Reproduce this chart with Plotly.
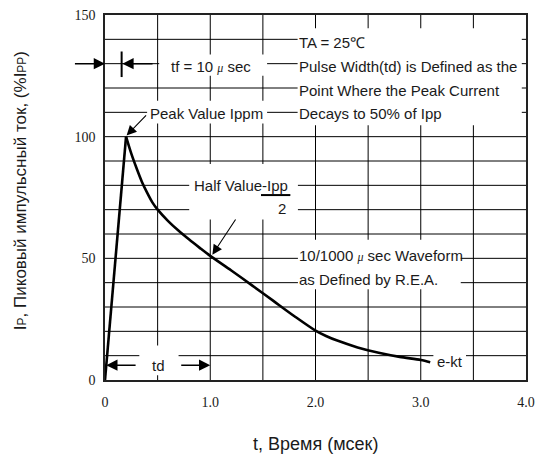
import plotly.graph_objects as go

# 10/1000 us test pulse: time (ms) vs peak pulse current (% of Ipp)
t_ms = [0, 0.2, 0.25, 0.3, 0.35, 0.4, 0.45, 0.5, 0.6, 0.7, 0.8, 0.9, 1.0,
        1.2, 1.4, 1.6, 1.8, 2.0, 2.1, 2.2, 2.4, 2.6, 2.8, 3.0, 3.09]
ip_pct = [0, 100, 93, 87, 81.5, 77, 73, 70, 65.3, 61.3, 57.7, 54.3, 51,
          45, 38.8, 32.5, 26.2, 20.3, 18.1, 16.3, 13.4, 11.2, 9.5, 8.2, 7.3]
PEAK_INDEX = 1

x_ticks = [0, 1, 2, 3, 4]
x_tick_text = ["0", "1.0", "2.0", "3.0", "4.0"]
y_ticks = [0, 50, 100, 150]
y_tick_text = ["0", "50", "100", "150"]
X_RANGE = (0, 4)
Y_RANGE = (0, 150)
X_GRID_STEP = 0.5
Y_GRID_STEP = 10

SANS = "Liberation Sans, Arial, sans-serif"
SERIF = "Liberation Serif, Times New Roman, serif"
INK = "#1a1a1a"
MU = '<span style="font-family:Liberation Serif;font-size:12px"><i>μ</i></span>'

fig = go.Figure()
# linear rise to the peak, smooth decay after it
fig.add_trace(go.Scatter(x=t_ms[:PEAK_INDEX + 1], y=ip_pct[:PEAK_INDEX + 1], mode="lines",
                         line=dict(color="black", width=2.6),
                         hoverinfo="skip", showlegend=False))
fig.add_trace(go.Scatter(x=t_ms[PEAK_INDEX:], y=ip_pct[PEAK_INDEX:], mode="lines",
                         line=dict(color="black", width=2.6, shape="spline", smoothing=0.8),
                         hoverinfo="skip", showlegend=False))

shapes = []
# chart grid: every 0.5 ms and every 10 %
n_x = int(round((X_RANGE[1] - X_RANGE[0]) / X_GRID_STEP))
n_y = int(round((Y_RANGE[1] - Y_RANGE[0]) / Y_GRID_STEP))
for i in range(1, n_x):
    gx = X_RANGE[0] + i * X_GRID_STEP
    shapes.append(dict(type="line", xref="x", yref="y", x0=gx, x1=gx,
                       y0=Y_RANGE[0], y1=Y_RANGE[1],
                       line=dict(color="black", width=1), layer="below"))
for j in range(1, n_y):
    gy = Y_RANGE[0] + j * Y_GRID_STEP
    shapes.append(dict(type="line", xref="x", yref="y", x0=X_RANGE[0], x1=X_RANGE[1],
                       y0=gy, y1=gy,
                       line=dict(color="black", width=1), layer="below"))

# white panels that break the grid behind each text block
panels = [
    (0.515, 1.54, 125.0, 133.8),   # tf label
    (0.40, 1.54, 105.4, 114.8),    # peak label
    (1.83, 3.96, 104.7, 144.6),    # conditions block
    (0.80, 1.833, 66.0, 88.8),     # half value label
    (1.833, 3.38, 37.3, 57.6),     # waveform label
    (0.326, 0.699, 2.0, 14.2),     # td label
    (3.12, 3.43, 4.0, 12.0),       # e-kt label
]
for x0, x1, y0, y1 in panels:
    shapes.append(dict(type="rect", xref="x", yref="y", x0=x0, x1=x1, y0=y0, y1=y1,
                       fillcolor="white", line=dict(width=0), layer="above"))
# tf marker bar and the Ipp/2 fraction bar
shapes.append(dict(type="line", xref="x", yref="y", x0=0.158, x1=0.158, y0=124.5, y1=135,
                   line=dict(color="black", width=2), layer="above"))
shapes.append(dict(type="line", xref="x", yref="y", x0=1.482, x1=1.761, y0=76, y1=76,
                   line=dict(color="black", width=2), layer="above"))

annotations = []


def arrow(x, y, ax, ay, width=1.5, size=1.5):
    annotations.append(dict(x=x, y=y, ax=ax, ay=ay, xref="x", yref="y",
                            axref="x", ayref="y", text="", showarrow=True,
                            arrowhead=2, arrowsize=size, arrowwidth=width,
                            arrowcolor="black", standoff=0))


def label(text, x, y, xanchor="left"):
    annotations.append(dict(x=x, y=y, xref="x", yref="y", text=text, showarrow=False,
                            xanchor=xanchor, yanchor="middle",
                            font=dict(family=SANS, size=15, color=INK)))


arrow(0, 130, -0.30, 130)
arrow(0.165, 130, 0.466, 130)
arrow(0.205, 100.5, 0.404, 109.4, width=1.1, size=1.8)
arrow(1.02, 51.5, 1.25, 66.6, width=1.1, size=1.8)
arrow(0.012, 6.1, 0.305, 6.1)
arrow(1.0, 6.1, 0.71, 6.1)

label("tf = 10 " + MU + " sec", 1.006, 129, xanchor="center")
label("TA = 25℃", 1.825, 138.5)
label("Pulse Width(td) is Defined as the", 1.825, 128.8)
label("Point Where the Peak Current", 1.825, 119)
label("Decays to 50% of Ipp", 1.825, 109.4)
label("Peak Value Ippm", 0.41, 109.5)
label("Half Value-Ipp", 0.83, 80)
label("2", 1.678, 70.3, xanchor="center")
label("10/1000 " + MU + " sec Waveform", 1.825, 51.3)
label("as Defined by R.E.A.", 1.825, 41.5)
label("e-kt", 3.135, 7.4)
label("td", 0.506, 6.1, xanchor="center")

# axis titles
annotations.append(dict(
    x=-0.202, y=0.52, xref="paper", yref="paper", showarrow=False, textangle=-90,
    xanchor="center", yanchor="middle",
    text='I<span style="font-size:12px">P</span>, Пиковый импульсный ток, '
         '(%I<span style="font-size:12px">PP</span>)',
    font=dict(family=SANS, size=17, color=INK)))
annotations.append(dict(
    x=0.5, y=-0.176, xref="paper", yref="paper", showarrow=False,
    xanchor="center", yanchor="middle", text="t, Время (мсек)",
    font=dict(family=SANS, size=18, color=INK)))

fig.update_layout(
    width=543, height=456,
    margin=dict(l=105, r=8, t=11, b=76),
    paper_bgcolor="white", plot_bgcolor="white",
    shapes=shapes, annotations=annotations,
    showlegend=False,
    xaxis=dict(range=list(X_RANGE), tickvals=x_ticks, ticktext=x_tick_text,
               showgrid=False, showline=True, linecolor="#222", linewidth=1.5, mirror=True,
               ticks="outside", ticklen=8, tickcolor="rgba(0,0,0,0)", zeroline=False,
               tickfont=dict(family=SERIF, size=14, color=INK), fixedrange=True),
    yaxis=dict(range=list(Y_RANGE), tickvals=y_ticks, ticktext=y_tick_text,
               showgrid=False, showline=True, linecolor="#222", linewidth=1.5, mirror=True,
               ticks="outside", ticklen=5, tickcolor="rgba(0,0,0,0)", zeroline=False,
               tickfont=dict(family=SERIF, size=14, color=INK), fixedrange=True),
)

fig.write_html("out.html", config={"displayModeBar": False})
